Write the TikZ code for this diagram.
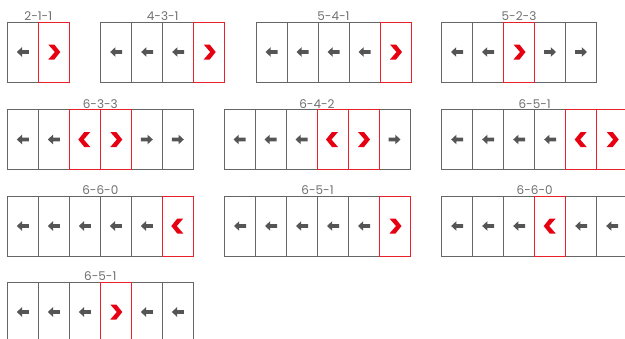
\documentclass[tikz,border=0pt]{standalone}
\usepackage{fontspec}
\setmainfont{Poppins}
\definecolor{gline}{HTML}{666666}
\definecolor{gtext}{HTML}{707070}
\definecolor{garrow}{HTML}{555555}
\definecolor{rline}{HTML}{E8202A}
\definecolor{rfill}{HTML}{E60012}
\tikzset{
  cellbox/.style={draw=gline, line width=0.9pt, minimum width=31pt, minimum height=60pt, inner sep=0pt, outer sep=0pt},
  lab/.style={anchor=base, text=gtext, font=\fontsize{12}{12}\selectfont, inner sep=0pt},
  pics/cell/.style={code={%
    \ifcase#1\relax
      \fill[garrow] (-6,0) -- (-0.8,-4.8) -- (-0.8,-1.8) -- (6,-1.8) -- (6,1.8) -- (-0.8,1.8) -- (-0.8,4.8) -- cycle;
    \or
      \fill[garrow] (6,0) -- (0.8,-4.8) -- (0.8,-1.8) -- (-6,-1.8) -- (-6,1.8) -- (0.8,1.8) -- (0.8,4.8) -- cycle;
    \or
      \draw[rline, line width=0.9pt] (-15.5,-30) rectangle (15.5,30);
      \fill[rfill] (5.5,-7.5) -- (-0.5,-7.5) -- (-6.5,0) -- (-0.5,7.5) -- (5.5,7.5) -- (-1,0) -- cycle;
    \or
      \draw[rline, line width=0.9pt] (-15.5,-30) rectangle (15.5,30);
      \fill[rfill] (-5.5,-7.5) -- (0.5,-7.5) -- (6.5,0) -- (0.5,7.5) -- (-5.5,7.5) -- (1,0) -- cycle;
    \fi}}
}
% #1 name, #2 x0, #3 y0, #4 label, #5 number of cells, #6 list (0 grey left, 1 grey right, 2 red left, 3 red right)
\newcommand\drawgroup[6]{%
  \foreach \t [count=\i] in {#6} {\node[cellbox] (#1-\i) at ({#2+(\i-1)*31+15.5},{#3+30}) {};}
  \foreach \t [count=\i] in {#6} {\pic at (#1-\i) {cell=\t};}
  \node[lab] (#1-lab) at ({#2+#5*15.5},{#3-1.5}) {#4};
}
\begin{document}
\begin{tikzpicture}[x=1pt,y=-1pt]
\useasboundingbox (0,0) rectangle (625,338);
\clip (0,0) rectangle (625,338);
\fill[white] (0,0) rectangle (625,338);
% row 1
\drawgroup{a}{7.3}{22}{2-1-1}{2}{0,3}
\drawgroup{b}{100.7}{22}{4-3-1}{4}{0,0,0,3}
\drawgroup{c}{256}{22}{5-4-1}{5}{0,0,0,0,3}
\drawgroup{d}{441.5}{22}{5-2-3}{5}{0,0,3,1,1}
% row 2
\drawgroup{e}{7.3}{109.5}{6-3-3}{6}{0,0,2,3,1,1}
\drawgroup{f}{224}{109.5}{6-4-2}{6}{0,0,0,2,3,1}
\drawgroup{g}{441.7}{109.5}{6-5-1}{6}{0,0,0,0,2,3}
% row 3
\drawgroup{h}{7.3}{196}{6-6-0}{6}{0,0,0,0,0,2}
\drawgroup{k}{224.5}{196}{6-5-1}{6}{0,0,0,0,0,3}
\drawgroup{m}{441.7}{196}{6-6-0}{6}{0,0,0,2,0,0}
% row 4
\drawgroup{n}{7.3}{282}{6-5-1}{6}{0,0,0,3,0,0}
\end{tikzpicture}
\end{document}
